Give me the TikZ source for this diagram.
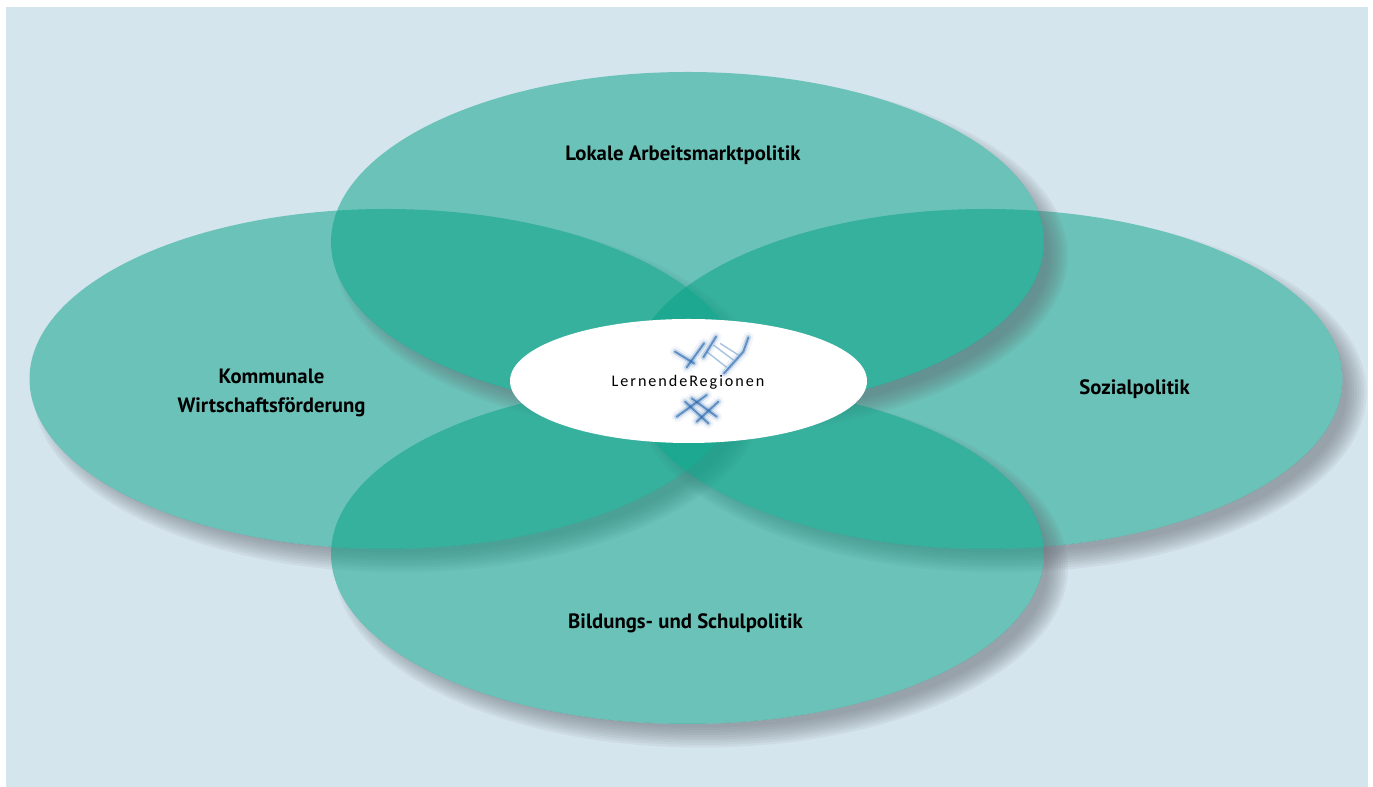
\documentclass[tikz,border=0pt]{standalone}
\usepackage{fontspec}
\setmainfont{PT Sans}
\newfontfamily\logofont[LetterSpace=12]{Carlito}
\definecolor{paleblue}{RGB}{213,229,237}
\definecolor{circleteal}{RGB}{3,161,133}
\definecolor{shadowgrey}{RGB}{100,105,115}
\definecolor{logoblue}{RGB}{40,105,175}
\begin{document}
\begin{tikzpicture}
                      \tikzstyle{label}=[font=\bfseries\fontsize{11.8}{16.5}\selectfont,align=center,text=black]
                      \tikzstyle{logohaze}=[line width=6pt,draw=logoblue!50!white,opacity=0.12,line cap=round]
                      \tikzstyle{logoglow}=[line width=3pt,draw=logoblue!70!white,opacity=0.3,line cap=round]
                      \tikzstyle{logoline}=[line width=1.1pt,draw=logoblue,opacity=0.65,line cap=round]
                      \useasboundingbox (0,0) rectangle (27.46,15.74);
                      \fill[paleblue] (0.12,0) rectangle (27.36,15.6);
                      % left, right, top, bottom
                      \foreach \cx/\cy in {7.72/8.16, 19.72/8.16, 13.75/10.9, 13.75/4.66} {
                          \begin{scope}[even odd rule]
                              \clip (0,0) rectangle (27.46,15.74) (\cx,\cy) ellipse [x radius=7.13,y radius=3.4];
                              \foreach \d in {-0.2,-0.15,-0.1,-0.05,0,0.05,0.1,0.15,0.2}
                                  \fill[shadowgrey,opacity=0.08] (\cx+0.28,\cy-0.27) ellipse [x radius=7.13+\d,y radius=3.4+\d];
                          \end{scope}
                          \fill[circleteal,opacity=0.5] (\cx,\cy) ellipse [x radius=7.13,y radius=3.4];
                      }
                      \fill[white] (13.77,8.12) ellipse [x radius=3.57,y radius=1.24];
                      % logo, in the pixels of a 3x crop
                      \begin{scope}[shift={(10,10.14)},x=0.00667cm,y=-0.00667cm]
                          \draw[logoblue!40!white,line width=0.8pt] (620,215) -- (680,262) (640,195) -- (700,240) (660,190) -- (715,225);
                          \foreach \style in {logohaze,logoglow,logoline} {
                              \draw[\style] (525,215) -- (582,250);
                              \draw[\style] (560,262) -- (612,190);
                              \draw[\style] (610,232) -- (648,170);
                              \draw[\style] (672,280) -- (730,215) -- (745,172);
                              \draw[\style] (555,365) -- (625,430);
                              \draw[\style] (530,410) -- (620,345);
                              \draw[\style] (590,425) -- (655,365);
                              \draw[\style] (575,355) -- (650,410);
                          }
                      \end{scope}
                      \node (logotext) at (13.76,8.09) {\logofont\fontsize{9.2}{11}\selectfont LernendeRegionen};
                      \node[label] (arbeit) at (13.66,12.64) {Lokale Arbeitsmarktpolitik};
                      \node[label] (wirtschaft) at (5.43,7.88) {Kommunale\\Wirtschaftsförderung};
                      \node[label] (sozial) at (22.69,7.96) {Sozialpolitik};
                      \node[label] (bildung) at (13.71,3.27) {Bildungs- und Schulpolitik};
                  \end{tikzpicture}
\end{document}
